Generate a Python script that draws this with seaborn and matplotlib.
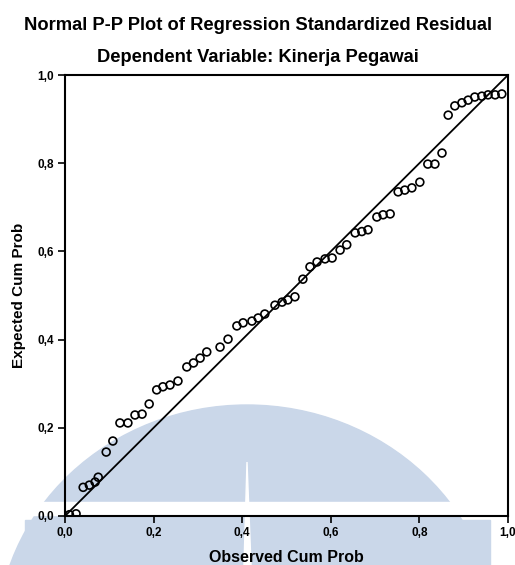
import matplotlib
matplotlib.use("Agg")
import matplotlib.pyplot as plt
import matplotlib.patches as mpatches
import seaborn as sns
import pandas as pd

# observed vs expected cumulative probability
observed = [0.010, 0.025, 0.041, 0.055, 0.068, 0.075, 0.093, 0.108, 0.124, 0.142,
            0.158, 0.174, 0.190, 0.207, 0.221, 0.237, 0.255, 0.275, 0.290, 0.305,
            0.320, 0.350, 0.368, 0.388, 0.402, 0.422, 0.436, 0.451, 0.474, 0.490,
            0.503, 0.519, 0.537, 0.553, 0.569, 0.587, 0.603, 0.621, 0.636, 0.655,
            0.670, 0.684, 0.704, 0.718, 0.734, 0.752, 0.767, 0.783, 0.801, 0.819,
            0.835, 0.851, 0.865, 0.880, 0.896, 0.910, 0.925, 0.941, 0.955, 0.971,
            0.986]
expected = [0.003, 0.005, 0.065, 0.070, 0.077, 0.088, 0.145, 0.170, 0.211, 0.211,
            0.229, 0.231, 0.254, 0.286, 0.293, 0.297, 0.306, 0.338, 0.347, 0.358,
            0.372, 0.383, 0.401, 0.431, 0.438, 0.442, 0.449, 0.458, 0.478, 0.485,
            0.490, 0.497, 0.537, 0.565, 0.576, 0.583, 0.585, 0.603, 0.615, 0.642,
            0.645, 0.649, 0.678, 0.683, 0.685, 0.735, 0.739, 0.744, 0.757, 0.798,
            0.798, 0.823, 0.909, 0.930, 0.937, 0.943, 0.950, 0.952, 0.955, 0.955,
            0.957]
ref_line = [0.0, 1.0]
tick_vals = [0.0, 0.2, 0.4, 0.6, 0.8, 1.0]
tick_labels = ["0,0", "0,2", "0,4", "0,6", "0,8", "1,0"]

df = pd.DataFrame({"Observed": observed, "Expected": expected})

sns.set_style("ticks")
plt.rcParams["font.family"] = ["Liberation Sans", "DejaVu Sans"]
plt.rcParams["text.color"] = "black"
plt.rcParams["axes.labelcolor"] = "black"
plt.rcParams["xtick.color"] = "black"
plt.rcParams["ytick.color"] = "black"

W, H = 515, 565
fig = plt.figure(figsize=(W / 100, H / 100), dpi=100)

# faint blue watermark behind everything
blue = "#cad7e9"
def px(x, y):
    return (x / W, 1 - y / H)
fig.patches.append(mpatches.Ellipse(px(247, 640), 500 / W, 470 / H, color=blue,
                                    transform=fig.transFigure, zorder=0))
fig.patches.append(mpatches.Rectangle(px(25, 565), 465 / W, 45 / H, color=blue,
                                      transform=fig.transFigure, zorder=0))
fig.patches.append(mpatches.Rectangle(px(0, 515), 515 / W, 13 / H, color="white",
                                      transform=fig.transFigure, zorder=0.5))
fig.patches.append(mpatches.Polygon([px(244, 565), px(247, 462), px(251, 565)],
                                    closed=True, color="white",
                                    transform=fig.transFigure, zorder=0.5))

ax = fig.add_axes([65 / W, 49 / H, 443 / W, 441 / H])
ax.set_facecolor("none")
ax.set_zorder(2)

sns.lineplot(x=ref_line, y=ref_line, color="black", linewidth=1.3, ax=ax)
sns.scatterplot(data=df, x="Observed", y="Expected", marker="o", s=32,
                facecolor="none", edgecolor="black", linewidth=1.2, ax=ax, zorder=3)

ax.set_xlim(0, 1)
ax.set_ylim(0, 1)
ax.set_xticks(tick_vals)
ax.set_xticklabels(tick_labels)
ax.set_yticks(tick_vals)
ax.set_yticklabels(tick_labels)
ax.tick_params(labelsize=8.5, width=1.2, length=5, pad=3, colors="black")
for lab in ax.get_xticklabels() + ax.get_yticklabels():
    lab.set_fontweight("bold")
for sp in ax.spines.values():
    sp.set_visible(True)
    sp.set_linewidth(1.5)
    sp.set_color("black")

ax.set_xlabel("Observed Cum Prob", fontsize=11.5, fontweight="bold", labelpad=8)
ax.set_ylabel("Expected Cum Prob", fontsize=11, fontweight="bold", labelpad=8)

fig.text(0.5, 1 - 25 / H, "Normal P-P Plot of Regression Standardized Residual",
         ha="center", va="center", fontsize=13.2, fontweight="bold")
fig.text(0.5, 1 - 58 / H, "Dependent Variable: Kinerja Pegawai",
         ha="center", va="center", fontsize=13.2, fontweight="bold")

fig.savefig("out.png", dpi=100)
